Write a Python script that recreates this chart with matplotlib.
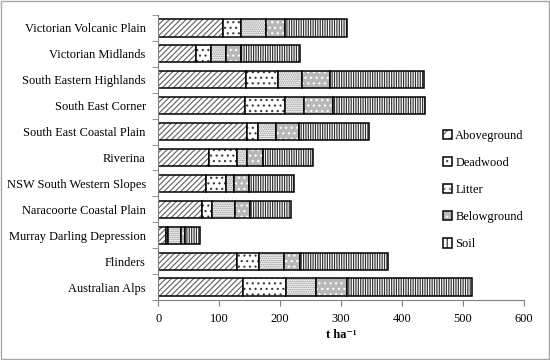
import matplotlib
matplotlib.use("Agg")
import matplotlib.pyplot as plt
import numpy as np
from matplotlib.patches import Patch, Rectangle
from matplotlib.legend_handler import HandlerTuple

categories = ["Victorian Volcanic Plain", "Victorian Midlands", "South Eastern Highlands",
              "South East Corner", "South East Coastal Plain", "Riverina",
              "NSW South Western Slopes", "Naracoorte Coastal Plain",
              "Murray Darling Depression", "Flinders", "Australian Alps"]
aboveground = [106, 62, 144, 143, 146, 83, 78, 71, 13, 129, 139]
deadwood = [29, 25, 53, 65, 18, 46, 33, 17, 3, 36, 71]
litter = [41, 24, 38, 31, 29, 16, 13, 38, 21, 41, 48]
belowground = [32, 24, 47, 48, 38, 27, 25, 24, 7, 26, 52]
soil = [101, 98, 154, 151, 115, 81, 74, 68, 24, 145, 205]
series_names = ["Aboveground", "Deadwood", "Litter", "Belowground", "Soil"]
xticks = [0, 100, 200, 300, 400, 500, 600]

plt.rcParams['font.family'] = ['Liberation Serif', 'DejaVu Serif']
plt.rcParams['hatch.linewidth'] = 0.85

styles = [
    dict(face='white', hatch='//////', hc='#666666'),
    dict(face='white', hatch='...', hc='#404040'),
    dict(face='white', hatch='........', hc='#8a8a8a'),
    dict(face='#b8b8b8', hatch='...', hc='white'),
    dict(face='white', hatch='|' * 7, hc='#303030'),
]

fs = 8.9
fig = plt.figure(figsize=(5.5, 3.6), dpi=100)
ax = fig.add_axes([158.3 / 550, 1 - 300 / 360, (524 - 158.3) / 550, (300 - 15) / 360])

y = np.arange(len(categories))
left = np.zeros(len(categories))
data = [aboveground, deadwood, litter, belowground, soil]
for vals, st in zip(data, styles):
    vals = np.array(vals, dtype=float)
    ax.barh(y, vals, left=left, height=0.66, color=st['face'], hatch=st['hatch'],
            edgecolor=st['hc'], linewidth=0)
    ax.barh(y, vals, left=left, height=0.66, fill=False, edgecolor='black', linewidth=1.1)
    left += vals

ax.set_ylim(len(categories) - 0.5, -0.5)
ax.set_xlim(0, 600)
ax.set_yticks(y)
ax.set_yticklabels(categories, fontsize=fs)
ax.set_yticks(np.arange(-0.5, len(categories)), minor=True)
ax.tick_params(axis='y', which='major', length=0, pad=9)
ax.tick_params(axis='y', which='minor', length=4, direction='out', color='#808080')
ax.set_xticks(xticks)
ax.set_xticklabels([str(t) for t in xticks], fontsize=fs)
ax.tick_params(axis='x', length=4, direction='out', color='#808080', pad=5)
for s in ['top', 'right']:
    ax.spines[s].set_visible(False)
for s in ['left', 'bottom']:
    ax.spines[s].set_color('#808080')
    ax.spines[s].set_linewidth(0.8)
ax.set_xlabel('t ha\u207b\u00b9', fontsize=fs, fontweight='bold', labelpad=3)

handles = []
for st in styles:
    h1 = Patch(facecolor=st['face'], hatch=st['hatch'][:3], edgecolor=st['hc'], linewidth=0)
    h2 = Patch(fill=False, edgecolor='black', linewidth=1.1)
    handles.append((h1, h2))
fig.legend(handles, series_names, handler_map={tuple: HandlerTuple(ndivide=1, pad=0)},
           loc='upper left', bbox_to_anchor=(443 / 550, 1 - 130 / 360),
           bbox_transform=fig.transFigure, frameon=False, fontsize=fs,
           handlelength=0.75, handleheight=0.75, handletextpad=0.25,
           labelspacing=1.22, borderpad=0, borderaxespad=0)

fig.patches.append(Rectangle((0.001, 0.002), 0.997, 0.996, transform=fig.transFigure,
                             fill=False, edgecolor='#a8a8a8', linewidth=1))
fig.savefig('out.png', dpi=100)
